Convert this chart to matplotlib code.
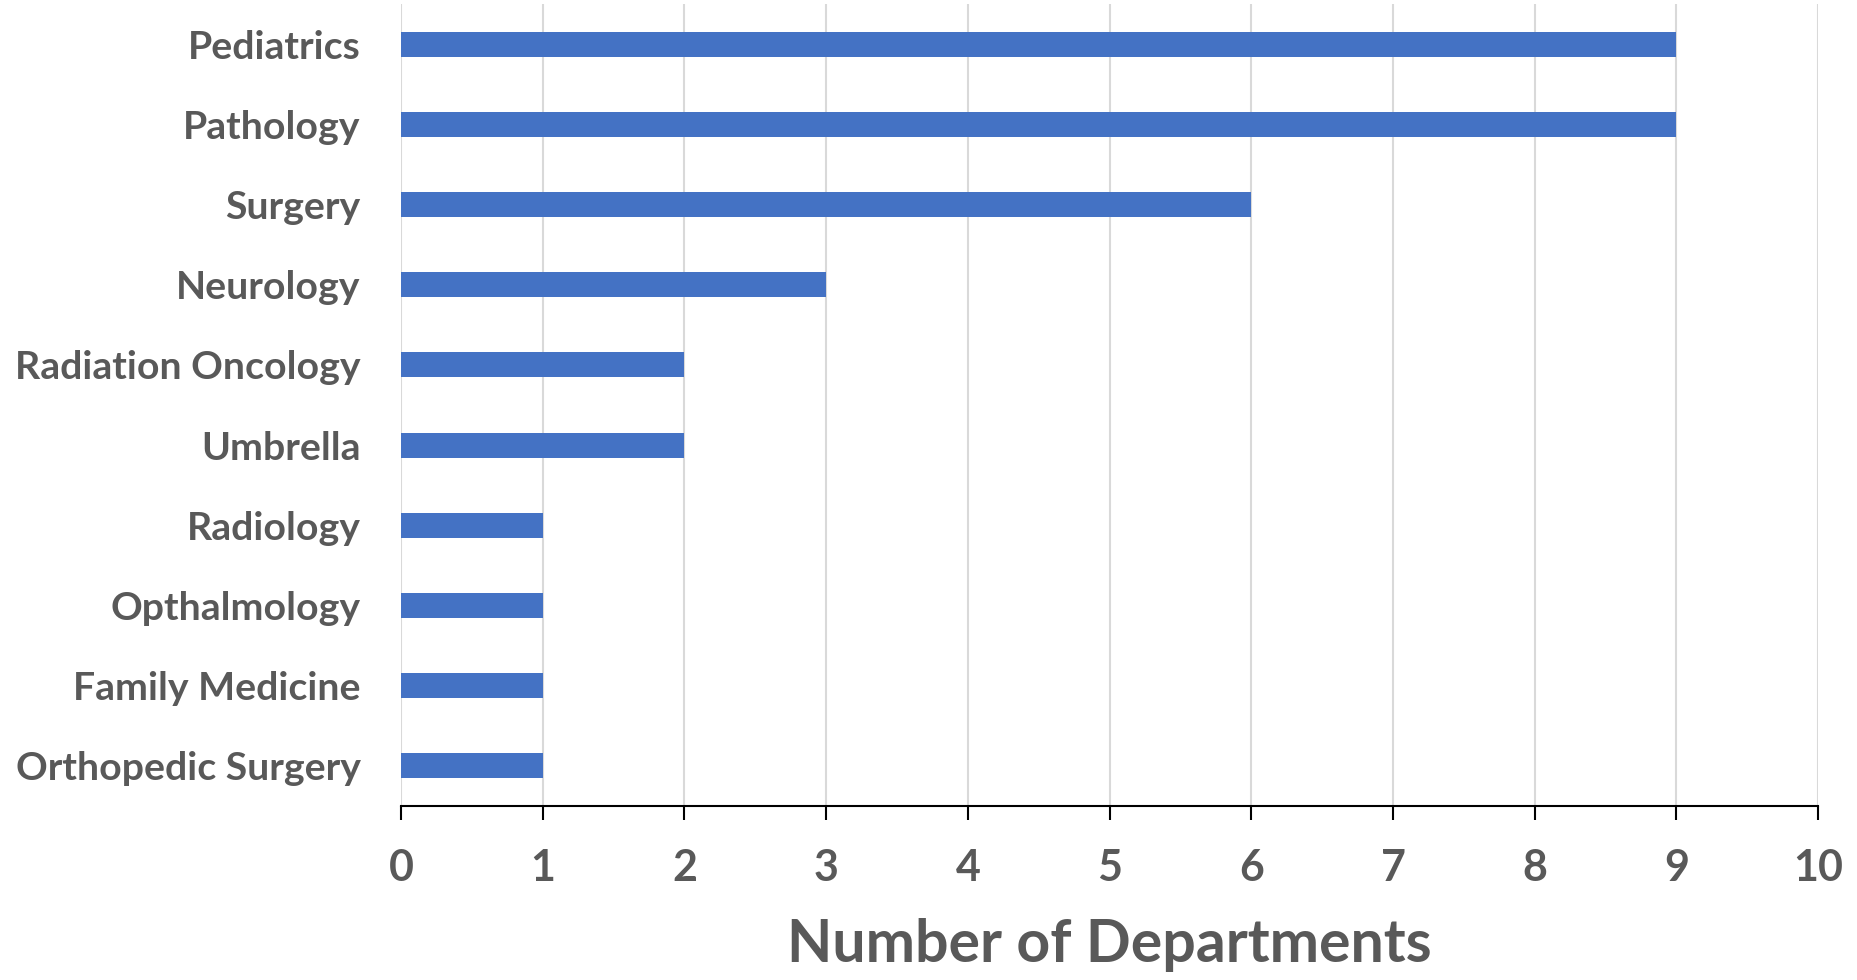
import matplotlib
matplotlib.use("Agg")
import matplotlib.pyplot as plt

# Departments, bottom to top
departments = ["Orthopedic Surgery", "Family Medicine", "Opthalmology", "Radiology",
               "Umbrella", "Radiation Oncology", "Neurology", "Surgery",
               "Pathology", "Pediatrics"]
counts = [1, 1, 1, 1, 2, 2, 3, 6, 9, 9]
xticks = list(range(0, 11))

grey = "#595959"
plt.rcParams['font.family'] = ['Lato', 'DejaVu Sans']

fig = plt.figure(figsize=(18.57, 9.8), dpi=100)
ax = fig.add_axes([0.2159, 0.1776, 0.7632, 0.8183])

ax.barh(range(len(departments)), counts, height=0.31, color="#4472C4", zorder=3)

ax.set_xlim(0, 10)
ax.set_ylim(-0.5, len(departments) - 0.5)
ax.set_xticks(xticks)
ax.set_yticks(range(len(departments)))
ax.set_yticklabels(departments)

ax.grid(axis="x", color="#D9D9D9", linewidth=1.5, zorder=0)
for s in ["left", "right", "top"]:
    ax.spines[s].set_visible(False)
ax.spines["bottom"].set_color("black")
ax.spines["bottom"].set_linewidth(1.5)

ax.tick_params(axis="x", direction="out", length=10, width=1.5, color="black",
               pad=20, labelsize=31, labelcolor=grey)
ax.tick_params(axis="y", length=0, pad=29, labelsize=28.3, labelcolor=grey)
for lbl in ax.get_xticklabels() + ax.get_yticklabels():
    lbl.set_fontweight("bold")

ax.set_xlabel("Number of Departments", fontsize=42.5, fontweight="bold", color=grey, labelpad=22)

fig.savefig("out.png", dpi=100)
